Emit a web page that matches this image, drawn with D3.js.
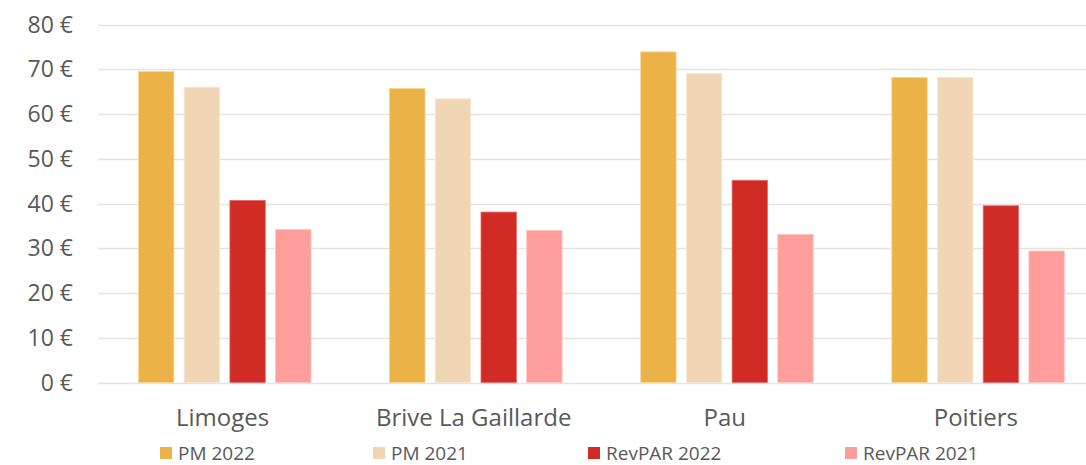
<!DOCTYPE html>
<html><head><meta charset="utf-8">
<script src="https://cdn.jsdelivr.net/npm/d3@7"></script>
<style>body{margin:0;background:#fff}svg{display:block}text{font-family:"Open Sans",Lato,sans-serif;fill:#595959}</style>
</head><body><svg id="c" width="1086" height="465"></svg>
<script>
const categories = ["Limoges", "Brive La Gaillarde", "Pau", "Poitiers"];
const series = ["PM 2022", "PM 2021", "RevPAR 2022", "RevPAR 2021"];
const pm2022 = [69.5, 65.7, 73.9, 68.2];
const pm2021 = [66.0, 63.4, 69.1, 68.2];
const revpar2022 = [40.7, 38.1, 45.2, 39.5];
const revpar2021 = [34.2, 34.0, 33.1, 29.4];
const yTicks = [0, 10, 20, 30, 40, 50, 60, 70, 80];

const values = [pm2022, pm2021, revpar2022, revpar2021];
const colors = ["#EBB347", "#F1D6B5", "#D12B25", "#FE9E9A"];
const strokes = ["#F5D590", "#F8E6D0", "#E86A66", "#FFC4C1"];

const svg = d3.select("#c");
const y = d3.scaleLinear().domain([0, 80]).range([382.5, 24.6]);
const x0 = d3.scaleBand().domain(categories).range([99, 1103.4]);
const x1 = d3.scaleBand().domain(series).range([39.5, 212]).paddingInner(0.225);

// grid
svg.append("g").selectAll("line").data(yTicks).join("line")
  .attr("x1", 98).attr("x2", 1086)
  .attr("y1", d => Math.round(y(d)) + 0.5).attr("y2", d => Math.round(y(d)) + 0.5)
  .attr("stroke", "#e3e3e3").attr("stroke-width", 1.3);

// y labels
svg.append("g").selectAll("text").data(yTicks).join("text")
  .attr("x", 73).attr("y", d => y(d)).attr("dy", "0.35em")
  .attr("text-anchor", "end").attr("font-size", 23)
  .text(d => d + " €");

// bars
const g = svg.append("g");
categories.forEach((c, ci) => {
  series.forEach((s, si) => {
    const v = values[si][ci];
    g.append("rect")
      .attr("x", x0(c) + x1(s)).attr("width", x1.bandwidth())
      .attr("y", y(v)).attr("height", y(0) - y(v))
      .attr("fill", colors[si]).attr("stroke", strokes[si]).attr("stroke-width", 0.8);
  });
});

// category labels
svg.append("g").selectAll("text").data(categories).join("text")
  .attr("x", d => x0(d) + x0.bandwidth() / 2 - 2).attr("y", 426)
  .attr("text-anchor", "middle").attr("font-size", 24)
  .text(d => d);

// legend
const legX = [160, 373, 588, 845];
const leg = svg.append("g").selectAll("g").data(series).join("g")
  .attr("transform", (d, i) => `translate(${legX[i]},447)`);
leg.append("rect").attr("width", 12).attr("height", 12).attr("fill", (d, i) => colors[i]);
leg.append("text").attr("x", 18).attr("y", 6).attr("dy", "0.36em")
  .attr("font-size", 19).text(d => d);
</script></body></html>
